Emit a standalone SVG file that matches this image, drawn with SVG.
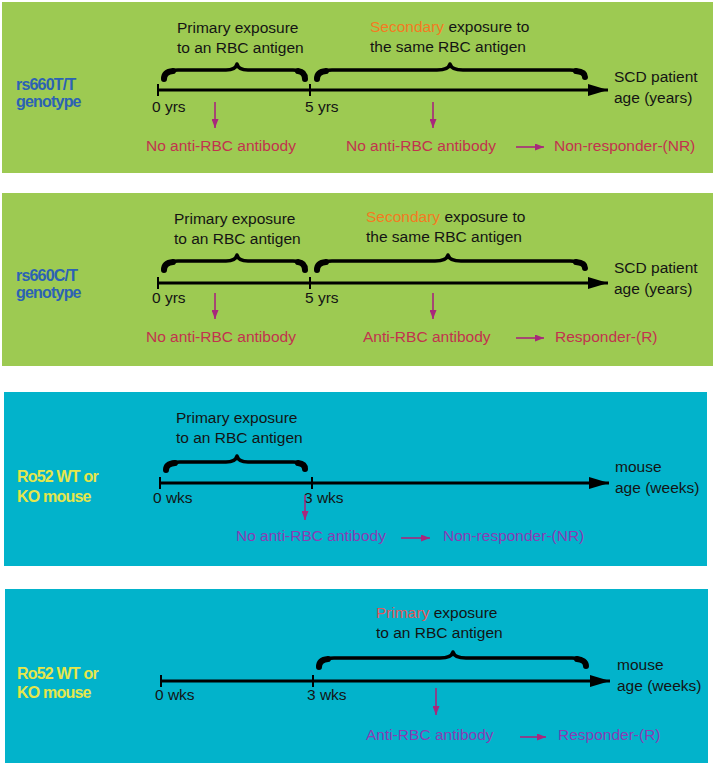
<svg xmlns="http://www.w3.org/2000/svg" width="718" height="767" viewBox="0 0 718 767">
<defs>
<marker id="big" viewBox="0 0 20 12" refX="20" refY="6" markerWidth="20" markerHeight="12" markerUnits="userSpaceOnUse" orient="auto"><path d="M0,0 L20,6 L0,12 Z" fill="#000"/></marker>
<marker id="sm" viewBox="0 0 9 7" refX="9" refY="3.5" markerWidth="9" markerHeight="7" markerUnits="userSpaceOnUse" orient="auto"><path d="M0,0 L9,3.5 L0,7 Z" fill="#a8287c"/></marker>
</defs>
<style>
.gr{fill:#9dca52}
.bl{fill:#02b3cb}
.t{font-family:"Liberation Sans",Arial,sans-serif;font-size:15.5px;fill:#141414}
.lab{font-family:"Liberation Sans",Arial,sans-serif;font-size:16px;font-weight:bold;letter-spacing:-0.8px}
.gen{fill:#2c62b4}
.ms{fill:#e6e64a}
.red{fill:#c2334e}
.pur{fill:#8a3cb4}
.sec{fill:#f47a22}
.pri{fill:#e2585a}
.axis{stroke:#000;stroke-width:3;fill:none}
.tick{stroke:#000;stroke-width:2}
.brace{stroke:#000;stroke-width:3.5;fill:none;stroke-linecap:round;stroke-linejoin:round}
.end{stroke:#000;stroke-width:6;fill:none;stroke-linecap:round}
.arr{stroke:#a8287c;stroke-width:1.6;fill:none}
</style>
<rect width="718" height="767" fill="#fff"/>

<g id="panel1">
<rect class="gr" x="2" y="2" width="711" height="171"/>
<text class="lab gen" x="16" y="90">rs660T/T</text>
<text class="lab gen" x="16" y="107">genotype</text>
<text class="t" x="177" y="33">Primary exposure</text>
<text class="t" x="177" y="53">to an RBC antigen</text>
<text class="t" x="370" y="32"><tspan class="sec">Secondary</tspan> exposure to</text>
<text class="t" x="370" y="52">the same RBC antigen</text>
<text class="t" x="614" y="82">SCD patient</text>
<text class="t" x="614" y="103">age (years)</text>
<text class="t" x="152" y="112">0 yrs</text>
<text class="t" x="305" y="112">5 yrs</text>
<text class="t red" x="146" y="151">No anti-RBC antibody</text>
<text class="t red" x="346" y="151">No anti-RBC antibody</text>
<text class="t red" x="554" y="151">Non-responder-(NR)</text>
</g>

<g id="panel2">
<rect class="gr" x="2" y="193" width="711" height="173"/>
<text class="lab gen" x="16" y="281">rs660C/T</text>
<text class="lab gen" x="16" y="298">genotype</text>
<text class="t" x="174" y="224">Primary exposure</text>
<text class="t" x="174" y="244">to an RBC antigen</text>
<text class="t" x="366" y="222"><tspan class="sec">Secondary</tspan> exposure to</text>
<text class="t" x="366" y="242">the same RBC antigen</text>
<text class="t" x="614" y="273">SCD patient</text>
<text class="t" x="614" y="294">age (years)</text>
<text class="t" x="152" y="303">0 yrs</text>
<text class="t" x="305" y="303">5 yrs</text>
<text class="t red" x="146" y="342">No anti-RBC antibody</text>
<text class="t red" x="363" y="342">Anti-RBC antibody</text>
<text class="t red" x="555" y="342">Responder-(R)</text>
</g>

<g id="panel3">
<rect class="bl" x="4" y="392" width="703" height="174"/>
<text class="lab ms" x="17" y="482">Ro52 WT or</text>
<text class="lab ms" x="17" y="502">KO mouse</text>
<text class="t" x="176" y="423">Primary exposure</text>
<text class="t" x="176" y="443">to an RBC antigen</text>
<text class="t" x="615" y="472">mouse</text>
<text class="t" x="615" y="493">age (weeks)</text>
<text class="t" x="153" y="503">0 wks</text>
<text class="t" x="304" y="503">3 wks</text>
<text class="t pur" x="236" y="541">No anti-RBC antibody</text>
<text class="t pur" x="443" y="541">Non-responder-(NR)</text>
</g>

<g id="panel4">
<rect class="bl" x="5" y="589" width="703" height="174"/>
<text class="lab ms" x="17" y="679">Ro52 WT or</text>
<text class="lab ms" x="17" y="698">KO mouse</text>
<text class="t" x="376" y="618"><tspan class="pri">Primary</tspan> exposure</text>
<text class="t" x="376" y="638">to an RBC antigen</text>
<text class="t" x="617" y="670">mouse</text>
<text class="t" x="617" y="691">age (weeks)</text>
<text class="t" x="155" y="700">0 wks</text>
<text class="t" x="307" y="700">3 wks</text>
<text class="t pur" x="366" y="740">Anti-RBC antibody</text>
<text class="t pur" x="558" y="740">Responder-(R)</text>
</g>

<g id="connectors">
<!-- panel 1 -->
<line class="axis" x1="158" y1="90" x2="608" y2="90" marker-end="url(#big)"/>
<line class="tick" x1="158" y1="84" x2="158" y2="96"/>
<line class="tick" x1="310" y1="84" x2="310" y2="96"/>
<path class="brace" d="M164,79 C164,73 168,70 178,70 L226,70 C233,70 236,68 237,64 C238,68 241,70 248,70 L293,70 C302,70 305,73 305,79"/>
<path class="end" d="M164,79 C164,74 167,71.5 173,71"/>
<path class="end" d="M305,79 C305,74 302,71.5 298,71"/>
<path class="brace" d="M317,79 C317,73 321,70 332,70 L437,70 C445,70 449,68 450,64 C451,68 455,70 463,70 L570,70 C580,70 585,73 585,77"/>
<path class="end" d="M317,79 C317,74 320,71.5 326,71"/>
<path class="end" d="M585,77 C585,73 581,71.5 576,71"/>
<line class="arr" x1="215" y1="102" x2="215" y2="128" marker-end="url(#sm)"/>
<line class="arr" x1="433" y1="102" x2="433" y2="128" marker-end="url(#sm)"/>
<line class="arr" x1="516" y1="147" x2="544" y2="147" marker-end="url(#sm)"/>
<!-- panel 2 -->
<line class="axis" x1="158" y1="283" x2="608" y2="283" marker-end="url(#big)"/>
<line class="tick" x1="158" y1="277" x2="158" y2="289"/>
<line class="tick" x1="310" y1="277" x2="310" y2="289"/>
<path class="brace" d="M164,270 C164,264 168,261 178,261 L226,261 C233,261 236,259 237,255 C238,259 241,261 248,261 L293,261 C302,261 305,264 305,270"/>
<path class="end" d="M164,270 C164,265 167,262.5 173,262"/>
<path class="end" d="M305,270 C305,265 302,262.5 298,262"/>
<path class="brace" d="M317,270 C317,264 321,261 332,261 L435,261 C443,261 447,259 448,255 C449,259 453,261 461,261 L570,261 C580,261 585,264 585,268"/>
<path class="end" d="M317,270 C317,265 320,262.5 326,262"/>
<path class="end" d="M585,268 C585,264 581,262.5 576,262"/>
<line class="arr" x1="215" y1="293" x2="215" y2="319" marker-end="url(#sm)"/>
<line class="arr" x1="433" y1="293" x2="433" y2="319" marker-end="url(#sm)"/>
<line class="arr" x1="516" y1="338" x2="544" y2="338" marker-end="url(#sm)"/>
<!-- panel 3 -->
<line class="axis" x1="160" y1="483" x2="609" y2="483" marker-end="url(#big)"/>
<line class="tick" x1="160" y1="477" x2="160" y2="489"/>
<line class="tick" x1="312" y1="477" x2="312" y2="489"/>
<path class="brace" d="M166,470 C166,465 170,462 180,462 L226,462 C233,462 236,460 237,456 C238,460 241,462 248,462 L293,462 C302,462 305,465 305,469"/>
<path class="end" d="M166,470 C166,466 169,463.5 175,463"/>
<path class="end" d="M305,469 C305,465 302,463.5 298,463"/>
<line class="arr" x1="305" y1="495" x2="305" y2="520" marker-end="url(#sm)"/>
<line class="arr" x1="401" y1="538" x2="430" y2="538" marker-end="url(#sm)"/>
<!-- panel 4 -->
<line class="axis" x1="161" y1="681" x2="610" y2="681" marker-end="url(#big)"/>
<line class="tick" x1="161" y1="675" x2="161" y2="687"/>
<line class="tick" x1="313" y1="675" x2="313" y2="687"/>
<path class="brace" d="M319,667 C319,661 323,658 334,658 L440,658 C448,658 452,656 453,652 C454,656 458,658 466,658 L572,658 C582,658 586,661 586,666"/>
<path class="end" d="M319,667 C319,662 322,659.5 328,659"/>
<path class="end" d="M586,666 C586,662 582,659.5 577,659"/>
<line class="arr" x1="436" y1="688" x2="436" y2="715" marker-end="url(#sm)"/>
<line class="arr" x1="520" y1="737" x2="546" y2="737" marker-end="url(#sm)"/>
</g>
</svg>
